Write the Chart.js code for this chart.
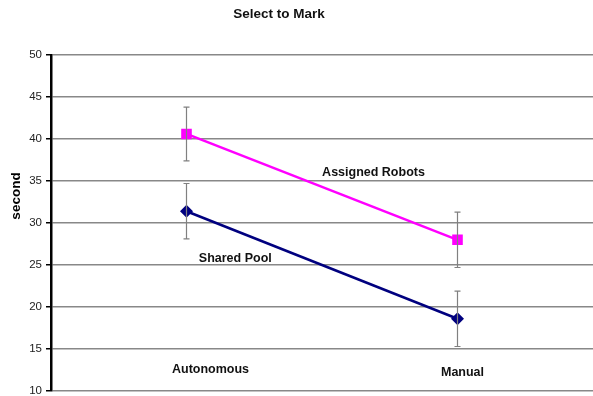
<!DOCTYPE html>
<html>
<head>
<meta charset="utf-8">
<script src="https://cdn.jsdelivr.net/npm/chart.js@4/dist/chart.umd.min.js"></script>
<style>
  html, body { margin: 0; padding: 0; background: #fff; }
  #wrap { width: 593px; height: 396px; }
</style>
</head>
<body>
<div id="wrap"><canvas id="c" width="593" height="396"></canvas></div>
<script>
// Conditions on the x axis
const categories = ['Autonomous', 'Manual'];

// Mean time (seconds) for each condition
const assignedRobots = [40.6, 28.0];
const sharedPool = [31.4, 18.6];

// Error bar half-widths
const assignedErr = [3.2, 3.3];
const sharedErr = [3.3, 3.3];

// Y axis range and step
const yTicks = { min: 10, max: 50, step: 5 };

// Series names written next to their lines: [category position, value]
const seriesLabelAt = {
  'Assigned Robots': [0.69, 35.95],
  'Shared Pool': [0.18, 25.8]
};

const chartTitle = 'Select to Mark';
const yTitle = 'second';

const FONT = '"Liberation Sans", Arial, sans-serif';

const errorBars = {
  id: 'errorBars',
  afterDatasetsDraw(chart) {
    const { ctx, scales: { x, y } } = chart;
    const sets = [[assignedRobots, assignedErr], [sharedPool, sharedErr]];
    ctx.save();
    ctx.strokeStyle = '#808080';
    ctx.lineWidth = 1.2;
    sets.forEach(([vals, errs]) => {
      vals.forEach((v, i) => {
        const px = x.getPixelForValue(i);
        const top = y.getPixelForValue(v + errs[i]);
        const bot = y.getPixelForValue(v - errs[i]);
        ctx.beginPath();
        ctx.moveTo(px, top); ctx.lineTo(px, bot);
        ctx.moveTo(px - 3, top); ctx.lineTo(px + 3, top);
        ctx.moveTo(px - 3, bot); ctx.lineTo(px + 3, bot);
        ctx.stroke();
      });
    });
    ctx.restore();
  }
};

const textLayer = {
  id: 'textLayer',
  afterDraw(chart) {
    const { ctx, chartArea, scales: { x, y } } = chart;
    ctx.save();
    ctx.fillStyle = '#111';
    ctx.textAlign = 'center';
    ctx.textBaseline = 'middle';
    ctx.font = 'bold 12.5px ' + FONT;

    // series names beside their lines
    Object.entries(seriesLabelAt).forEach(([name, [c, v]]) => {
      ctx.fillText(name, x.getPixelForValue(c), y.getPixelForValue(v));
    });

    // category names sit just above the bottom of the plot
    const shift = [24, 5];
    ctx.font = 'bold 12.5px ' + FONT;
    categories.forEach((name, i) => {
      ctx.fillText(name, x.getPixelForValue(i) + shift[i], chartArea.bottom - 21 + i * 3);
    });

    // chart title
    ctx.font = 'bold 13.5px ' + FONT;
    ctx.fillText(chartTitle, 279, 14);

    // y axis title
    ctx.font = 'bold 13.5px ' + FONT;
    ctx.translate(16, 196);
    ctx.rotate(-Math.PI / 2);
    ctx.fillStyle = '#000';
    ctx.fillText(yTitle, 0, 0);
    ctx.restore();
  }
};

new Chart(document.getElementById('c'), {
  type: 'line',
  data: {
    labels: categories,
    datasets: [
      {
        label: 'Assigned Robots',
        data: assignedRobots,
        borderColor: '#ff00ff',
        backgroundColor: '#ff00ff',
        borderWidth: 2.5,
        pointStyle: 'rect',
        pointRadius: 7.5,
        pointBorderWidth: 0
      },
      {
        label: 'Shared Pool',
        data: sharedPool,
        borderColor: '#00007f',
        backgroundColor: '#00007f',
        borderWidth: 2.5,
        pointStyle: 'rectRot',
        pointRadius: 6.5,
        pointBorderWidth: 0
      }
    ]
  },
  options: {
    responsive: false,
    animation: false,
    devicePixelRatio: 1,
    layout: { autoPadding: false, padding: { top: 55, right: 0, left: 0, bottom: 5 } },
    plugins: {
      legend: { display: false },
      title: { display: false },
      tooltip: { enabled: false }
    },
    scales: {
      x: {
        display: false,
        offset: true
      },
      y: {
        min: yTicks.min,
        max: yTicks.max,
        ticks: {
          stepSize: yTicks.step,
          padding: 4,
          color: '#222',
          font: { family: FONT, size: 11.5 }
        },
        grid: {
          color: '#888',
          lineWidth: 1.5,
          tickLength: 5,
          tickColor: '#000',
          tickWidth: 1.5
        },
        border: { color: '#000', width: 2.5 },
        title: { display: false },
        afterFit(scale) {
          scale.width = 51;
          scale.paddingTop = 0;
          scale.paddingBottom = 0;
        }
      }
    }
  },
  plugins: [errorBars, textLayer]
});
</script>
</body>
</html>
